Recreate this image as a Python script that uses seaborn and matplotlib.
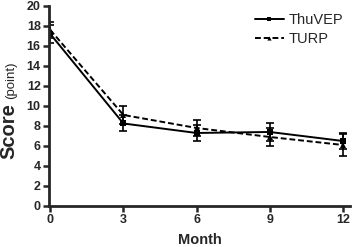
import numpy as np
import pandas as pd
import matplotlib
matplotlib.use("Agg")
import matplotlib.pyplot as plt
import seaborn as sns

months = [0, 3, 6, 9, 12]
thuvep_mean = [17.2, 8.25, 7.3, 7.4, 6.5]
thuvep_sd = [0.9, 0.8, 0.8, 0.9, 0.8]
turp_mean = [17.6, 9.1, 7.8, 6.9, 6.1]
turp_sd = [0.8, 0.9, 0.8, 0.9, 1.1]
groups = ["ThuVEP", "TURP"]

df = pd.DataFrame({
    "Month": months * 2,
    "Score": thuvep_mean + turp_mean,
    "SD": thuvep_sd + turp_sd,
    "Group": ["ThuVEP"] * 5 + ["TURP"] * 5,
})

sns.set_style("ticks")
plt.rcParams["font.family"] = ["Liberation Sans", "DejaVu Sans"]

fig = plt.figure(figsize=(3.58, 2.47), dpi=100)
ax = fig.add_axes([0.137, 0.166, 0.841, 0.81])

sns.lineplot(data=df, x="Month", y="Score", hue="Group", style="Group",
             palette=["black", "black"], markers={"ThuVEP": "s", "TURP": "^"},
             dashes={"ThuVEP": (None, None), "TURP": (3, 1.5)}, markersize=4,
             markeredgewidth=0, linewidth=1.4, ax=ax)

for g in groups:
    sub = df[df["Group"] == g]
    ax.errorbar(sub["Month"], sub["Score"], yerr=sub["SD"], fmt="none",
                ecolor="black", elinewidth=1.2, capsize=3, capthick=1.2)

ax.set_xlim(-0.05, 12.3)
ax.set_ylim(0, 20)
ax.set_xticks(months)
ax.set_yticks(range(0, 21, 2))
ax.tick_params(axis="both", width=1.8, length=4, labelsize=9, pad=2)
for lab in ax.get_xticklabels() + ax.get_yticklabels():
    lab.set_fontweight("bold")
for s in ["left", "bottom"]:
    ax.spines[s].set_linewidth(2)
sns.despine(ax=ax)

ax.set_xlabel("Month", fontsize=10.5, fontweight="bold", labelpad=5)
ax.set_ylabel("")
fig.text(0.024, 0.47, "Score", rotation=90, fontsize=14.5, fontweight="bold",
         ha="center", va="center")
fig.text(0.03, 0.675, "(point)", rotation=90, fontsize=9.5,
         ha="center", va="center")

handles, labels = ax.get_legend_handles_labels()
for h in handles:
    h.set_markersize(3)
ax.legend(handles, labels, loc="upper right", frameon=False, fontsize=10.5,
          handlelength=2.0, handletextpad=0.3, labelspacing=0.35,
          bbox_to_anchor=(1.02, 1.03))

fig.savefig("out.png", dpi=100)
